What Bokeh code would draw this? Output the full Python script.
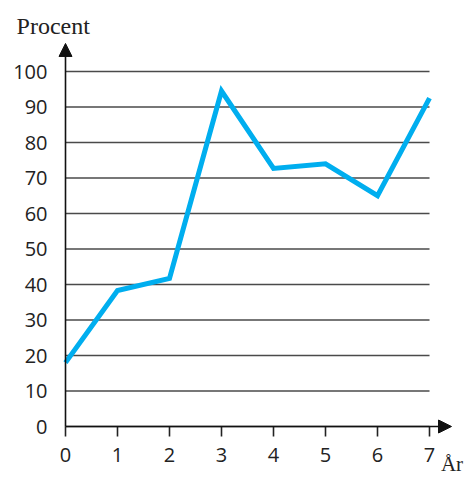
from bokeh.plotting import figure
from bokeh.models import Range1d, FixedTicker, Arrow, NormalHead, Label, LinearAxis
from bokeh.embed import file_html
from bokeh.resources import INLINE

years = [0, 1, 2, 3, 4, 5, 6, 7]
percent = [18, 38.3, 41.7, 94.5, 72.7, 74, 65, 92.5]
y_ticks = [0, 10, 20, 30, 40, 50, 60, 70, 80, 90, 100]
x_ticks = [0, 1, 2, 3, 4, 5, 6, 7]

p = figure(width=465, height=477, output_backend="svg", toolbar_location=None,
           x_range=Range1d(-1.25, 7.692), y_range=Range1d(-14.366, 120.0),
           x_axis_type=None, y_axis_type=None, min_border=0)
p.outline_line_color = None
p.xgrid.visible = False
p.ygrid.visible = False

# horizontal grid lines from first to last year
p.segment(x0=[x_ticks[0]] * len(y_ticks), x1=[x_ticks[-1]] * len(y_ticks),
          y0=y_ticks, y1=y_ticks, line_color="#4a4a4a", line_width=1.6)

p.line(years, percent, line_color="#00aeef", line_width=5, line_join="miter")

tick_font = "Open Sans"
xa = LinearAxis(ticker=FixedTicker(ticks=x_ticks), fixed_location=0)
xa.axis_line_color = None
xa.major_tick_out = 10
xa.major_tick_in = 0
xa.major_tick_line_color = "#222222"
xa.major_tick_line_width = 1.6
xa.minor_tick_line_color = None
xa.major_label_text_font = tick_font
xa.major_label_text_font_size = "20px"
xa.major_label_text_color = "#222222"
xa.major_label_standoff = 11
p.add_layout(xa, "below")

ya = LinearAxis(ticker=FixedTicker(ticks=y_ticks), fixed_location=0)
ya.axis_line_color = None
ya.major_tick_out = 0
ya.major_tick_in = 0
ya.minor_tick_line_color = None
ya.major_label_text_font = tick_font
ya.major_label_text_font_size = "20px"
ya.major_label_text_color = "#222222"
ya.major_label_standoff = 18
p.add_layout(ya, "left")

# axis lines with arrow heads
p.add_layout(Arrow(x_start=0, y_start=0, x_end=7.423, y_end=0, line_color="#111111", line_width=1.6,
                   end=NormalHead(size=13, fill_color="#111111", line_color="#111111")))
p.add_layout(Arrow(x_start=0, y_start=0, x_end=0, y_end=107.9, line_color="#111111", line_width=1.6,
                   end=NormalHead(size=13, fill_color="#111111", line_color="#111111")))

p.add_layout(Label(x=-0.94, y=112.9, text="Procent", text_font="Liberation Serif",
                   text_font_size="24px", text_color="#222222", text_baseline="alphabetic"))
p.add_layout(Label(x=7.22, y=-10.6, text="År", text_font="Liberation Serif",
                   text_font_size="21px", text_color="#222222", text_baseline="alphabetic"))

open("out.html", "w").write(file_html(p, INLINE))
